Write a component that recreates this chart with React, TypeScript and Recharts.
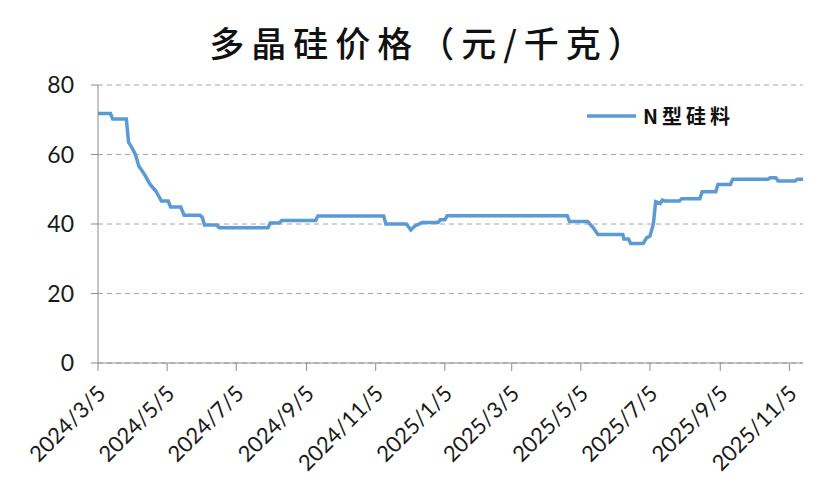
import { CartesianGrid, Legend, Line, LineChart, XAxis, YAxis } from 'recharts';

// price change points (N-type polysilicon, yuan/kg)
const dates = [
  '2024-03-05', '2024-03-16', '2024-03-18', '2024-03-30', '2024-04-01', '2024-04-03',
  '2024-04-07', '2024-04-10', '2024-04-15', '2024-04-20', '2024-04-25', '2024-04-30',
  '2024-05-06', '2024-05-08', '2024-05-17', '2024-05-20', '2024-06-03', '2024-06-05',
  '2024-06-07', '2024-06-18', '2024-06-20', '2024-08-02', '2024-08-04', '2024-08-12',
  '2024-08-14', '2024-09-13', '2024-09-15', '2024-11-12', '2024-11-14', '2024-12-02',
  '2024-12-06', '2024-12-10', '2024-12-16', '2024-12-30', '2025-01-01', '2025-01-05',
  '2025-01-07', '2025-04-23', '2025-04-25', '2025-05-11', '2025-05-16', '2025-05-20',
  '2025-06-11', '2025-06-12', '2025-06-16', '2025-06-18', '2025-06-29', '2025-07-02',
  '2025-07-05', '2025-07-08', '2025-07-10', '2025-07-14', '2025-07-16', '2025-07-18',
  '2025-07-31', '2025-08-02', '2025-08-18', '2025-08-20', '2025-09-01', '2025-09-03',
  '2025-09-14', '2025-09-16', '2025-10-17', '2025-10-19', '2025-10-24', '2025-10-26',
  '2025-11-10', '2025-11-12', '2025-11-17',
];
const prices = [
  71.8, 71.8, 70.2, 70.2, 63.5, 62.5,
  60.0, 56.7, 54.3, 51.4, 49.5, 46.6,
  46.6, 44.9, 44.9, 42.5, 42.5, 41.9,
  39.7, 39.7, 38.9, 38.9, 40.3, 40.3,
  41.0, 41.0, 42.3, 42.3, 40.0, 40.0,
  38.3, 39.5, 40.4, 40.4, 41.2, 41.2,
  42.4, 42.4, 40.7, 40.7, 38.9, 37.0,
  37.0, 35.7, 35.7, 34.4, 34.4, 36.0,
  36.5, 40.0, 46.4, 45.9, 46.9, 46.6,
  46.6, 47.3, 47.3, 49.3, 49.3, 51.4,
  51.4, 52.9, 52.9, 53.3, 53.3, 52.4,
  52.4, 52.9, 52.9,
];
const tickLabels = [
  '2024/3/5', '2024/5/5', '2024/7/5', '2024/9/5', '2024/11/5', '2025/1/5',
  '2025/3/5', '2025/5/5', '2025/7/5', '2025/9/5', '2025/11/5',
];
const yTicks = [0, 20, 40, 60, 80];
const startDate = '2024/3/5';
const endDate = '2025/11/17';

const toTime = (s: string) => {
  const [y, m, d] = s.split(/[-/]/).map(Number);
  return Date.UTC(y, m - 1, d);
};
const fmt = (t: number) => {
  const d = new Date(t);
  return `${d.getUTCFullYear()}/${d.getUTCMonth() + 1}/${d.getUTCDate()}`;
};

const data = dates.map((d, i) => ({ t: toTime(d), price: prices[i] }));
const xTicks = tickLabels.map(toTime);

const BLUE = '#5B9BD5';
const AXIS = '#8C8C8C';

const XTick = (props: any) => {
  const { x, y, payload } = props;
  return (
    <text
      transform={`translate(${x + 9},${y + 22}) rotate(-45)`}
      textAnchor="end"
      fontSize={22}
      fontFamily="Lato, sans-serif"
      fill="#1a1a1a"
    >
      {fmt(payload.value)}
    </text>
  );
};

const LegendBox = () => (
  <div style={{ display: 'flex', alignItems: 'center' }}>
    <svg width={52} height={10}>
      <line x1={1} y1={5} x2={50} y2={5} stroke={BLUE} strokeWidth={3.5} />
    </svg>
    <span
      style={{
        marginLeft: 5,
        fontSize: 20,
        fontWeight: 700,
        letterSpacing: 4,
        fontFamily: '"Noto Sans CJK SC", sans-serif',
        color: '#111',
      }}
    >
      N型硅料
    </span>
  </div>
);

export default function App() {
  return (
    <div style={{ position: 'relative', width: 831, height: 484, margin: -8, background: '#fff' }}>
      <div
        style={{
          position: 'absolute',
          left: 0,
          width: 831,
          top: 18,
          textAlign: 'center',
          fontSize: 35,
          fontWeight: 500,
          letterSpacing: 7,
          paddingLeft: 14,
          fontFamily: '"Noto Sans CJK SC", sans-serif',
          color: '#111',
          lineHeight: '48px',
        }}
      >
        多晶硅价格（元/千克）
      </div>
      <LineChart
        width={831}
        height={484}
        data={data}
        margin={{ top: 85, right: 28, left: 0, bottom: 0 }}
      >
        <CartesianGrid vertical={false} stroke="#A6A6A6" strokeDasharray="5 4" />
        <XAxis
          dataKey="t"
          type="number"
          domain={[toTime(startDate), toTime(endDate)]}
          ticks={xTicks}
          interval={0}
          height={121}
          axisLine={{ stroke: AXIS }}
          tickLine={{ stroke: AXIS }}
          tickSize={8}
          tick={<XTick />}
        />
        <YAxis
          domain={[0, 80]}
          ticks={yTicks}
          width={98}
          axisLine={{ stroke: AXIS }}
          tickLine={{ stroke: AXIS }}
          tickSize={7}
          tickMargin={17}
          tick={{ fontSize: 23, fill: '#1a1a1a', fontFamily: 'Lato, sans-serif' }}
        />
        <Legend
          layout="horizontal"
          verticalAlign="middle"
          align="center"
          content={<LegendBox />}
          wrapperStyle={{ left: 586, top: 101, width: 200, height: 28 }}
        />
        <Line
          type="linear"
          dataKey="price"
          name="N型硅料"
          stroke={BLUE}
          strokeWidth={3.5}
          dot={false}
          isAnimationActive={false}
        />
      </LineChart>
    </div>
  );
}
